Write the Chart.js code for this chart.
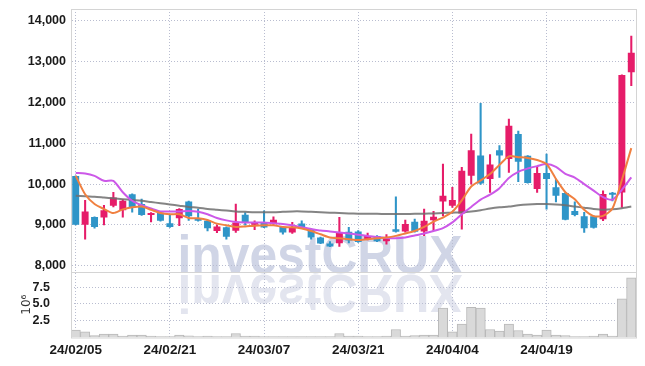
<!DOCTYPE html>
<html>
<head>
<meta charset="utf-8">
<script src="https://cdn.jsdelivr.net/npm/chart.js@4.4.1/dist/chart.umd.min.js"></script>
<style>
html, body { margin: 0; padding: 0; background: #fff; }
#wrap { width: 645px; height: 366px; }
</style>
</head>
<body>
<div id="wrap"><canvas id="stockChart" width="645" height="366"></canvas></div>
<script>
// trading days
const dates = [
    '24/02/05','24/02/06','24/02/07','24/02/08','24/02/13','24/02/14','24/02/15','24/02/16','24/02/19','24/02/20',
    '24/02/21','24/02/22','24/02/23','24/02/26','24/02/27','24/02/28','24/02/29','24/03/04','24/03/05','24/03/06',
    '24/03/07','24/03/08','24/03/11','24/03/12','24/03/13','24/03/14','24/03/15','24/03/18','24/03/19','24/03/20',
    '24/03/21','24/03/22','24/03/25','24/03/26','24/03/27','24/03/28','24/03/29','24/04/01','24/04/02','24/04/03',
    '24/04/04','24/04/05','24/04/08','24/04/09','24/04/11','24/04/12','24/04/15','24/04/16','24/04/17','24/04/18',
    '24/04/19','24/04/22','24/04/23','24/04/24','24/04/25','24/04/26','24/04/29','24/04/30','24/05/02','24/05/03'
];

const opens = [
    10200, 9000, 9190, 9180, 9470, 9360, 9750, 9510, 9240, 9300,
    9040, 9160, 9570, 9160, 9100, 8850, 8940, 8855, 9250, 9000,
    9060, 9020, 8950, 8815, 9035, 8895, 8690, 8545, 8550, 8830,
    8840, 8650, 8730, 8600, 8895, 8840, 9075, 8840, 9115, 9575,
    9470, 9280, 10205, 10700, 10125, 10830, 10615, 11225, 10695, 9880,
    10270, 9920, 9780, 9340, 9210, 9210, 9140, 9780, 9795, 12740
];
const highs = [
    10200, 9600, 9200, 9480, 9800, 9620, 9760, 9630, 9300, 9310,
    9260, 9400, 9580, 9390, 9110, 9000, 8950, 9510, 9300, 9100,
    9345, 9200, 8960, 9060, 9100, 8900, 8700, 8590, 9185, 8940,
    8860, 8800, 8740, 8760, 9690, 9115, 9140, 9385, 9330, 10490,
    9920, 10410, 11225, 11980, 10720, 10940, 11595, 11300, 10700, 10410,
    10735, 10125, 9790, 9565, 9310, 9220, 9835, 9800, 12675, 13625
];
const lows = [
    9000, 8650, 8920, 9000, 9440, 9190, 9310, 9230, 9075, 9090,
    8940, 8980, 9110, 9090, 8850, 8810, 8650, 8815, 8990, 8880,
    8930, 9010, 8775, 8790, 8910, 8650, 8540, 8465, 8470, 8560,
    8570, 8630, 8590, 8530, 8820, 8820, 8820, 8735, 8855, 9220,
    9430, 8895, 10000, 9990, 9795, 10165, 10285, 10060, 10020, 9795,
    9385, 9565, 9120, 9220, 8815, 8920, 9100, 9590, 9430, 12410
];
const closes = [
    9000, 9330, 8950, 9360, 9670, 9590, 9430, 9240, 9290, 9100,
    8950, 9390, 9210, 9100, 8920, 8960, 8710, 9060, 9060, 9060,
    8935, 9125, 8815, 8950, 8950, 8690, 8545, 8470, 8815, 8620,
    8580, 8730, 8600, 8670, 8830, 9020, 8830, 9100, 9200, 9715,
    9610, 10325, 10830, 10015, 10480, 10700, 11430, 10545, 10025, 10270,
    10125, 9715, 9125, 9240, 8915, 8930, 9755, 9740, 12675, 13215
];

// volume, in 10^6 shares
const volumes = [
    1.1, 0.85, 0.27, 0.5, 0.5, 0.2, 0.35, 0.35, 0.2, 0.15,
    0.15, 0.35, 0.25, 0.15, 0.2, 0.15, 0.15, 0.6, 0.2, 0.2,
    0.15, 0.15, 0.15, 0.15, 0.15, 0.15, 0.15, 0.15, 0.6, 0.2,
    0.2, 0.15, 0.15, 0.2, 1.2, 0.2, 0.3, 0.35, 0.35, 4.4,
    0.85, 2.0, 4.5, 4.4, 1.2, 0.95, 2.0, 1.05, 0.5, 0.35,
    1.1, 0.35, 0.3, 0.15, 0.15, 0.2, 0.5, 0.2, 5.75, 8.9
];

// moving averages
const ma5 = [
    10200, 9750, 9510, 9390, 9290, 9380, 9430, 9450, 9370, 9290,
    9260, 9260, 9170, 9160, 9120, 9030, 8990, 8950, 8960, 8980,
    8990, 8990, 8950, 8940, 8910, 8850, 8770, 8690, 8670, 8650,
    8630, 8650, 8670, 8690, 8730, 8790, 8850, 8950, 9080, 9180,
    9320, 9600, 9940, 10090, 10245, 10470, 10680, 10660, 10640, 10590,
    10490, 10125, 9800, 9630, 9370, 9215, 9220, 9400, 10100, 10880
];
const ma20 = [
    10270, 10260, 10200, 10080, 10080, 9800, 9590, 9480, 9400, 9330,
    9330, 9330, 9340, 9320, 9260, 9170, 9110, 9070, 9060, 9060,
    9060, 9040, 9020, 8990, 8940, 8900, 8860, 8840, 8815, 8790,
    8760, 8730, 8700, 8680, 8670, 8690, 8740, 8790, 8850, 8920,
    9060, 9260, 9440, 9620, 9740, 9900, 10150, 10300, 10380, 10440,
    10490, 10420, 10250, 10160, 10000, 9840, 9680, 9620, 9860, 10165
];
const ma60 = [
    9715, 9700, 9690, 9670, 9650, 9630, 9610, 9590, 9560, 9530,
    9500, 9470, 9440, 9420, 9390, 9370, 9350, 9330, 9320, 9310,
    9310, 9310, 9320, 9330, 9330, 9320, 9310, 9300, 9290, 9280,
    9275, 9270, 9270, 9265, 9265, 9265, 9270, 9275, 9280, 9290,
    9300, 9310, 9330, 9360, 9400, 9430, 9450, 9480, 9500, 9510,
    9510, 9500, 9480, 9450, 9420, 9390, 9370, 9380, 9410, 9450
];

const priceTicks = [8000, 9000, 10000, 11000, 12000, 13000, 14000];
const volumeTicks = [2.5, 5.0, 7.5];

const UP = '#e61c69';
const DOWN = '#2f95c8';
const GRID = '#b9bdd0';
const TICK_FONT = "'Liberation Sans', Arial, sans-serif";

function candleColor(ctx) {
    const i = ctx.dataIndex;
    return closes[i] >= opens[i] ? UP : DOWN;
}

// no extra label padding around the plot
function noPad(scale) {
    scale.paddingTop = 0;
    scale.paddingBottom = 0;
    scale.paddingLeft = 0;
    scale.paddingRight = 0;
}

const watermark = {
    id: 'watermark',
    beforeDraw(chart) {
        const ctx = chart.ctx;
        const text = 'investCRUX';
        ctx.save();
        ctx.font = "bold 54px 'Liberation Sans', Arial, sans-serif";
        const sx = 285 / ctx.measureText(text).width;
        ctx.textAlign = 'center';
        ctx.textBaseline = 'alphabetic';
        ctx.translate(320, 273);
        ctx.scale(sx, 1);
        ctx.fillStyle = '#d0d5e6';
        ctx.fillText(text, 0, 0);
        ctx.scale(1, -1);
        ctx.fillStyle = '#e3e5ef';
        ctx.fillText(text, 0, -2);
        ctx.restore();
    }
};

const frame = {
    id: 'frame',
    afterDraw(chart) {
        const ctx = chart.ctx;
        const a = chart.chartArea;
        const py = chart.scales.y.bottom;
        ctx.save();
        ctx.strokeStyle = '#d4d4d4';
        ctx.lineWidth = 1;
        ctx.strokeRect(a.left + 0.5, a.top + 0.5, a.right - a.left, a.bottom - a.top);
        ctx.beginPath();
        ctx.moveTo(a.left, Math.round(py) + 0.5);
        ctx.lineTo(a.right, Math.round(py) + 0.5);
        ctx.stroke();
        ctx.restore();
    }
};

const ctx = document.getElementById('stockChart').getContext('2d');
new Chart(ctx, {
    type: 'bar',
    data: {
        labels: dates,
        datasets: [
            {
                type: 'line', label: 'MA5', data: ma5, yAxisID: 'y', order: 0,
                borderColor: 'rgb(240,128,64)', borderWidth: 2, pointRadius: 0, tension: 0.25
            },
            {
                type: 'line', label: 'MA20', data: ma20, yAxisID: 'y', order: 0,
                borderColor: 'rgb(204,88,232)', borderWidth: 2, pointRadius: 0, tension: 0.25
            },
            {
                type: 'line', label: 'MA60', data: ma60, yAxisID: 'y', order: 0,
                borderColor: 'rgba(110,110,110,0.85)', borderWidth: 2, pointRadius: 0, tension: 0.25
            },
            {
                label: 'body', yAxisID: 'y', order: 1,
                data: opens.map((o, i) => [o, closes[i]]),
                backgroundColor: candleColor,
                barPercentage: 0.74, categoryPercentage: 1, minBarLength: 2, grouped: false
            },
            {
                label: 'wick', yAxisID: 'y', order: 2,
                data: lows.map((l, i) => [l, highs[i]]),
                backgroundColor: candleColor,
                barThickness: 1.4, grouped: false
            },
            {
                label: 'volume', data: volumes, yAxisID: 'yVol', order: 3,
                backgroundColor: '#d9d9d9', borderColor: '#b9b9b9', borderWidth: 1,
                barPercentage: 1, categoryPercentage: 1, grouped: false
            }
        ]
    },
    options: {
        responsive: false,
        animation: false,
        devicePixelRatio: 1,
        layout: { padding: { top: 9, right: 9, left: 0, bottom: 0 } },
        plugins: { legend: { display: false }, tooltip: { enabled: false } },
        scales: {
            x: {
                offset: true,
                grid: { offset: false, drawTicks: false, color: GRID },
                border: { display: false, dash: [1, 2] },
                afterBuildTicks: (scale) => {
                    scale.ticks = scale.ticks.filter(t => t.value % 10 === 0);
                },
                afterFit: (scale) => { scale.height = 28.5; noPad(scale); },
                ticks: {
                    autoSkip: false, maxRotation: 0, padding: 5,
                    color: '#1a1a1a', font: { family: TICK_FONT, size: 13.5, weight: 'bold' }
                }
            },
            yVol: {
                position: 'left', stack: 'main', stackWeight: 1,
                min: 0, max: 9.8,
                afterBuildTicks: (scale) => {
                    scale.ticks = volumeTicks.map(v => ({ value: v }));
                },
                afterFit: (scale) => { scale.width = 71; noPad(scale); },
                grid: { drawTicks: false, color: GRID },
                border: { display: false, dash: [1, 2] },
                title: {
                    display: true, text: '10\u2076', color: '#333',
                    font: { family: "'DejaVu Sans', sans-serif", size: 12 },
                    padding: { top: 20, bottom: 0 }
                },
                ticks: {
                    autoSkip: false, padding: 21, color: '#1a1a1a',
                    font: { family: TICK_FONT, size: 12.5, weight: 'bold' },
                    callback: (v) => v.toFixed(1)
                }
            },
            y: {
                position: 'left', stack: 'main', stackWeight: 4,
                min: 7850, max: 14290,
                afterBuildTicks: (scale) => {
                    scale.ticks = priceTicks.map(v => ({ value: v }));
                },
                afterFit: (scale) => { scale.width = 71; noPad(scale); },
                grid: { drawTicks: false, color: GRID },
                border: { display: true, color: '#d4d4d4', dash: [1, 2] },
                ticks: {
                    autoSkip: false, padding: 5, color: '#1a1a1a',
                    font: { family: TICK_FONT, size: 12.5, weight: 'bold' },
                    callback: (v) => v.toLocaleString('en-US')
                }
            }
        }
    },
    plugins: [watermark, frame]
});
</script>
</body>
</html>
